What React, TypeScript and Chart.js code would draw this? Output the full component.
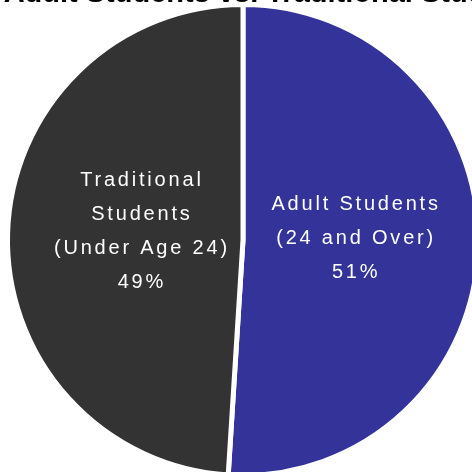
import React, { useEffect, useRef } from "react";
import { Chart, registerables } from "chart.js";

Chart.register(...registerables);

const titleText = "Adult Students vs. Traditional Students";
const categories = ["Adult Students (24 and Over)", "Traditional Students (Under Age 24)"];
const labelLines = [
  ["Adult Students", "(24 and Over)"],
  ["Traditional", "Students", "(Under Age 24)"],
];
const shares = [51, 49];
const sliceColors = ["#333399", "#333333"];

const sliceLabelPlugin = {
  id: "sliceLabels",
  afterDatasetsDraw(chart: any) {
    const meta = chart.getDatasetMeta(0);
    const ctx = chart.ctx as CanvasRenderingContext2D;
    ctx.save();
    ctx.fillStyle = "#ffffff";
    ctx.font = "20px 'Liberation Sans', Arial, sans-serif";
    ctx.textAlign = "center";
    ctx.textBaseline = "middle";
    (ctx as any).letterSpacing = "2.8px";
    const lineH = 34;
    meta.data.forEach((arc: any, i: number) => {
      const p = arc.getProps(["x", "y", "startAngle", "endAngle", "outerRadius"], true);
      const mid = (p.startAngle + p.endAngle) / 2;
      const r = p.outerRadius * 0.455;
      const cx = p.x + Math.cos(mid) * r + 6;
      const cy = p.y + Math.sin(mid) * r - 5;
      const lines = [...labelLines[i], `${shares[i]}%`];
      const top = cy - ((lines.length - 1) * lineH) / 2;
      lines.forEach((t, k) => ctx.fillText(t, cx, top + k * lineH));
    });
    ctx.restore();
  },
};

export default function App() {
  const ref = useRef<HTMLCanvasElement>(null);
  useEffect(() => {
    if (!ref.current) return;
    const chart = new Chart(ref.current, {
      type: "pie",
      data: {
        labels: categories,
        datasets: [
          {
            data: shares,
            backgroundColor: sliceColors,
            borderColor: "#ffffff",
            borderWidth: 5,
          },
        ],
      },
      options: {
        animation: false,
        responsive: false,
        layout: { padding: 0 },
        plugins: {
          legend: { display: false },
          tooltip: { enabled: false },
          title: {
            display: true,
            text: titleText,
            align: "end",
            color: "#000000",
            font: { family: "'Liberation Sans', Arial, sans-serif", size: 29, weight: "bold", lineHeight: 1.0 },
            padding: { top: 0, bottom: -6 },
          },
        },
      },
      plugins: [sliceLabelPlugin],
    });
    return () => chart.destroy();
  }, []);
  return (
    <div style={{ position: "fixed", left: 0, top: 0, width: 472, height: 472, overflow: "hidden", background: "#fff" }}>
      <canvas
        ref={ref}
        width={604}
        height={499}
        style={{ position: "absolute", left: -59, top: -21, width: 604, height: 499 }}
      />
    </div>
  );
}
